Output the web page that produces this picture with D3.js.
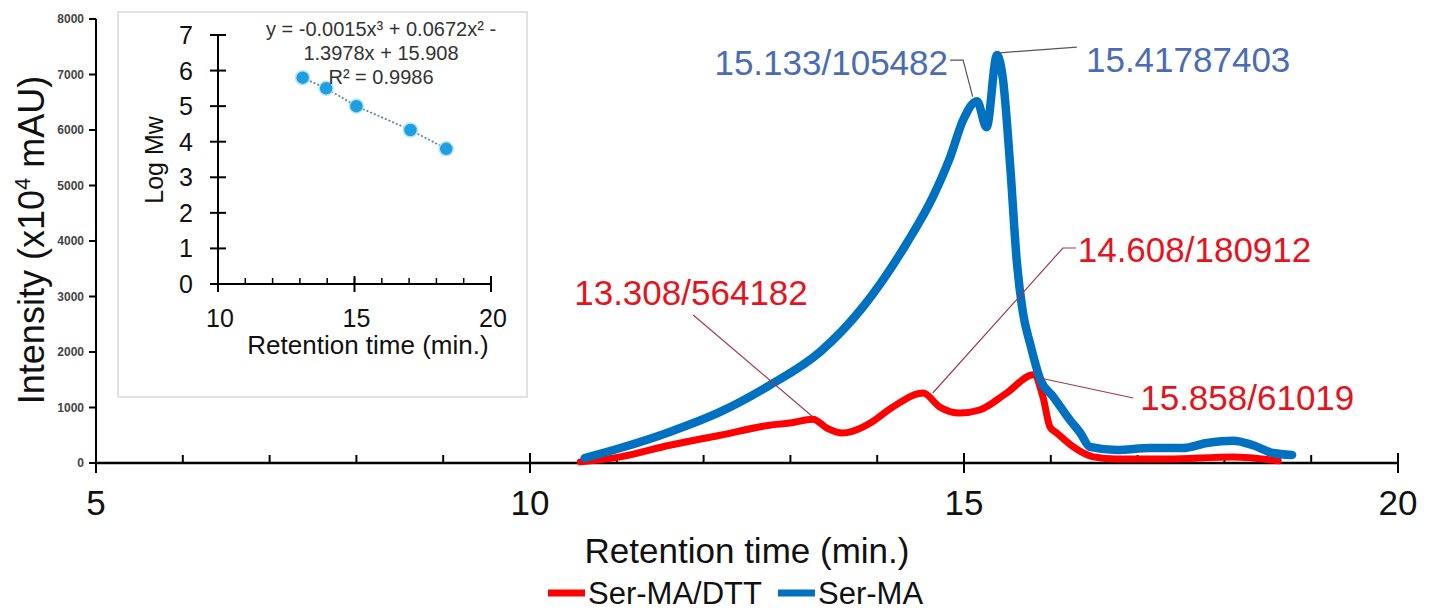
<!DOCTYPE html>
<html>
<head>
<meta charset="utf-8">
<script src="https://cdn.jsdelivr.net/npm/d3@7"></script>
<style>
  body { margin: 0; background: #fff; }
  svg { display: block; font-family: "Liberation Sans", Arial, sans-serif; }
</style>
</head>
<body>
<svg id="chart" width="1429" height="613"></svg>
<script>
// chromatogram data (time in min, intensity)
var blueTime = [10.63, 11.04, 11.61, 12.19, 12.76, 13.34, 13.84, 14.34, 14.64, 14.84, 14.99,
  15.15, 15.26, 15.38, 15.45, 15.53, 15.61, 15.68, 15.76, 15.88, 16.03, 16.22, 16.34, 16.45,
  16.76, 17.14, 17.52, 17.8, 18.1, 18.33, 18.56, 18.78]
var blueIntensity = [90, 270, 560, 920, 1400, 2000, 2820, 3960, 4790, 5510, 6180,
  6520, 6050, 7350, 6900, 5400, 3600, 2700, 2160, 1500, 1190, 775, 540, 290,
  235, 270, 270, 360, 400, 320, 180, 145]

var redTime = [10.58, 11.04, 11.61, 12.19, 12.76, 12.99, 13.26, 13.42, 13.6, 13.84, 13.92, 14.18,
  14.53, 14.72, 14.95, 15.18, 15.49, 15.8, 15.91, 15.99, 16.07, 16.26, 16.49, 16.76, 17.34, 18.1, 18.62]
var redIntensity = [20, 110, 320, 500, 680, 720, 790, 630, 540, 650, 720, 1010,
  1260, 1010, 900, 955, 1260, 1590, 1190, 650, 540, 290, 110, 70, 70, 110, 40]

// ijkpunten inzet
var calTime = [13.1, 13.96, 15.07, 17.05, 18.36]
var calLogMw = [5.8, 5.5, 5.0, 4.33, 3.8]

// labels van de pieken
var peakLabels = ["15.133/105482", "15.41787403", "13.308/564182", "14.608/180912", "15.858/61019"]
var peakSeries = ["blue", "blue", "red", "red", "red"]
// positie label (t, intensiteit) en leader punten
var peakTextAt = [[14.816, 6990], [16.405, 7045], [11.855, 2847], [16.31, 3622], [17.03, 955]]
var peakAnchor = ["end", "start", "middle", "start", "start"]
var peakLeader = [
  [[14.84, 7260], [14.99, 7260], [15.10, 6600]],
  [[16.30, 7495], [15.41, 7390]],
  [[11.88, 2667], [13.26, 829]],
  [[16.29, 3874], [16.14, 3874], [14.64, 1261]],
  [[16.95, 1171], [15.875, 1532]]
]

var xTicks = [5, 10, 15, 20]
var yTicks = [0, 1000, 2000, 3000, 4000, 5000, 6000, 7000, 8000]
var insetXTicks = [10, 15, 20]
var insetYTicks = [0, 1, 2, 3, 4, 5, 6, 7]
var equation = ["y = -0.0015x\u00b3 + 0.0672x\u00b2 -", "1.3978x + 15.908", "R\u00b2 = 0.9986"]
var legendKeys = ["Ser-MA/DTT", "Ser-MA"]

var colors = {red: "#ff0000", blue: "#0070c0"}
var textColors = {red: "#e3141e", blue: "#4a6cb3"}
var leaderColors = {red: "#9c3a4a", blue: "#555"}

var svg = d3.select("#chart")
svg.append("rect").attr("width", 1429).attr("height", 613).attr("fill", "#fff")

// schalen hoofdgrafiek
var x = d3.scaleLinear().domain([5, 20]).range([96, 1398])
var y = d3.scaleLinear().domain([0, 8000]).range([463, 19])

var g = svg.append("g")

// y as
g.append("line").attr("x1", x(5)).attr("x2", x(5)).attr("y1", y(8000)).attr("y2", y(0) + 10)
  .attr("stroke", "#000").attr("stroke-width", 2)
g.selectAll(".ytick").data(yTicks).enter().append("line")
  .attr("x1", x(5) - 7).attr("x2", x(5)).attr("y1", function(d) { return y(d) }).attr("y2", function(d) { return y(d) })
  .attr("stroke", "#000").attr("stroke-width", 2)
g.selectAll(".ylab").data(yTicks).enter().append("text")
  .attr("x", x(5) - 12).attr("y", function(d) { return y(d) }).attr("dy", "0.35em")
  .attr("text-anchor", "end").attr("font-size", 12).attr("font-weight", "bold").attr("fill", "#444")
  .text(function(d) { return d })

// x as
g.append("line").attr("x1", x(5)).attr("x2", x(20)).attr("y1", y(0)).attr("y2", y(0))
  .attr("stroke", "#000").attr("stroke-width", 2.5)
g.selectAll(".xminor").data(d3.range(6, 20)).enter().append("line")
  .attr("x1", function(d) { return x(d) }).attr("x2", function(d) { return x(d) })
  .attr("y1", y(0) - 8).attr("y2", y(0)).attr("stroke", "#000").attr("stroke-width", 2)
g.selectAll(".xmajor").data(xTicks).enter().append("line")
  .attr("x1", function(d) { return x(d) }).attr("x2", function(d) { return x(d) })
  .attr("y1", y(0) - 10).attr("y2", y(0) + 10).attr("stroke", "#000").attr("stroke-width", 2)
g.selectAll(".xlab").data(xTicks).enter().append("text")
  .attr("x", function(d) { return x(d) }).attr("y", 515)
  .attr("text-anchor", "middle").attr("font-size", 35).attr("fill", "#111")
  .text(function(d) { return d })

// as titels
g.append("text").attr("x", 747).attr("y", 563).attr("text-anchor", "middle")
  .attr("font-size", 35).attr("fill", "#111").text("Retention time (min.)")
var yt = g.append("text").attr("transform", "translate(44,240) rotate(-90)")
  .attr("text-anchor", "middle").attr("font-size", 36).attr("fill", "#111")
yt.append("tspan").text("Intensity (x10")
yt.append("tspan").attr("font-size", 22).attr("dy", -14).text("4")
yt.append("tspan").attr("dy", 14).text(" mAU)")

// lijnen
var line = d3.line()
  .x(function(d) { return x(d[0]) })
  .y(function(d) { return y(d[1]) })
  .curve(d3.curveMonotoneX)

var redData = redTime.map(function(t, i) { return [t, redIntensity[i]] })
var blueData = blueTime.map(function(t, i) { return [t, blueIntensity[i]] })

g.append("path").datum(redData).attr("d", line).attr("fill", "none")
  .attr("stroke", colors.red).attr("stroke-width", 7).attr("stroke-linejoin", "round").attr("stroke-linecap", "round")
g.append("path").datum(blueData).attr("d", line).attr("fill", "none")
  .attr("stroke", colors.blue).attr("stroke-width", 8.5).attr("stroke-linejoin", "round").attr("stroke-linecap", "round")

// labels en leaders
var leader = d3.line().x(function(d) { return x(d[0]) }).y(function(d) { return y(d[1]) })
peakLabels.forEach(function(lab, i) {
  var s = peakSeries[i]
  g.append("path").attr("d", leader(peakLeader[i])).attr("fill", "none")
    .attr("stroke", leaderColors[s]).attr("stroke-width", 1.2)
  g.append("text").attr("x", x(peakTextAt[i][0])).attr("y", y(peakTextAt[i][1]))
    .attr("text-anchor", peakAnchor[i]).attr("font-size", 35).attr("fill", textColors[s])
    .text(lab)
})

// legenda
var legend = g.selectAll(".legend").data(legendKeys).enter().append("g")
  .attr("transform", function(d, i) { return "translate(" + (548 + i * 230) + ",593)" })
legend.append("line").attr("x1", 0).attr("x2", 37).attr("y1", 0).attr("y2", 0)
  .attr("stroke", function(d, i) { return i == 0 ? colors.red : colors.blue }).attr("stroke-width", 7)
legend.append("text").attr("x", 40).attr("y", 11).attr("font-size", 31).attr("fill", "#111")
  .text(function(d) { return d })

// inzet grafiek
var inset = svg.append("g")
inset.append("rect").attr("x", 118).attr("y", 12).attr("width", 409).attr("height", 385)
  .attr("fill", "#fff").attr("stroke", "#d9d9d9").attr("stroke-width", 1.5)

var ix = d3.scaleLinear().domain([10, 20]).range([218, 491])
var iy = d3.scaleLinear().domain([0, 7]).range([284, 35])

inset.append("line").attr("x1", ix(10)).attr("x2", ix(10)).attr("y1", iy(7)).attr("y2", iy(0) + 8)
  .attr("stroke", "#000").attr("stroke-width", 2)
inset.append("line").attr("x1", ix(10) - 8).attr("x2", ix(20)).attr("y1", iy(0)).attr("y2", iy(0))
  .attr("stroke", "#000").attr("stroke-width", 2)
inset.selectAll(".iyt").data(insetYTicks).enter().append("line")
  .attr("x1", ix(10) - 8).attr("x2", ix(10) + 8).attr("y1", function(d) { return iy(d) }).attr("y2", function(d) { return iy(d) })
  .attr("stroke", "#000").attr("stroke-width", 2)
inset.selectAll(".iyl").data(insetYTicks).enter().append("text")
  .attr("x", 193).attr("y", function(d) { return iy(d) }).attr("dy", "0.36em")
  .attr("text-anchor", "end").attr("font-size", 25).attr("fill", "#111").text(function(d) { return d })
inset.selectAll(".ixm").data(d3.range(11, 20)).enter().append("line")
  .attr("x1", function(d) { return ix(d) }).attr("x2", function(d) { return ix(d) })
  .attr("y1", iy(0) - 6).attr("y2", iy(0)).attr("stroke", "#000").attr("stroke-width", 1.5)
inset.selectAll(".ixt").data(insetXTicks).enter().append("line")
  .attr("x1", function(d) { return ix(d) }).attr("x2", function(d) { return ix(d) })
  .attr("y1", iy(0) - 8).attr("y2", iy(0) + 8).attr("stroke", "#000").attr("stroke-width", 2)
inset.selectAll(".ixl").data(insetXTicks).enter().append("text")
  .attr("x", function(d) { return ix(d) + 2 }).attr("y", 327)
  .attr("text-anchor", "middle").attr("font-size", 25).attr("fill", "#111").text(function(d) { return d })
inset.append("text").attr("x", 368).attr("y", 354).attr("text-anchor", "middle")
  .attr("font-size", 26).attr("fill", "#111").text("Retention time (min.)")
inset.append("text").attr("transform", "translate(163,160) rotate(-90)").attr("text-anchor", "middle")
  .attr("font-size", 25).attr("fill", "#111").text("Log Mw")

var calData = calTime.map(function(t, i) { return [t, calLogMw[i]] })
inset.append("path").datum(calData)
  .attr("d", d3.line().x(function(d) { return ix(d[0]) }).y(function(d) { return iy(d[1]) }))
  .attr("fill", "none").attr("stroke", "#5a8a9a").attr("stroke-width", 1.8).attr("stroke-dasharray", "2,2")
inset.selectAll(".pt").data(calData).enter().append("circle")
  .attr("cx", function(d) { return ix(d[0]) }).attr("cy", function(d) { return iy(d[1]) })
  .attr("r", 7).attr("fill", "#1ea0e0").attr("stroke", "#b9e3f7").attr("stroke-width", 1.5)

inset.selectAll(".eq").data(equation).enter().append("text")
  .attr("x", 381).attr("y", function(d, i) { return 36 + i * 24 })
  .attr("text-anchor", "middle").attr("font-size", 20).attr("fill", "#333").text(function(d) { return d })
</script>
</body>
</html>
